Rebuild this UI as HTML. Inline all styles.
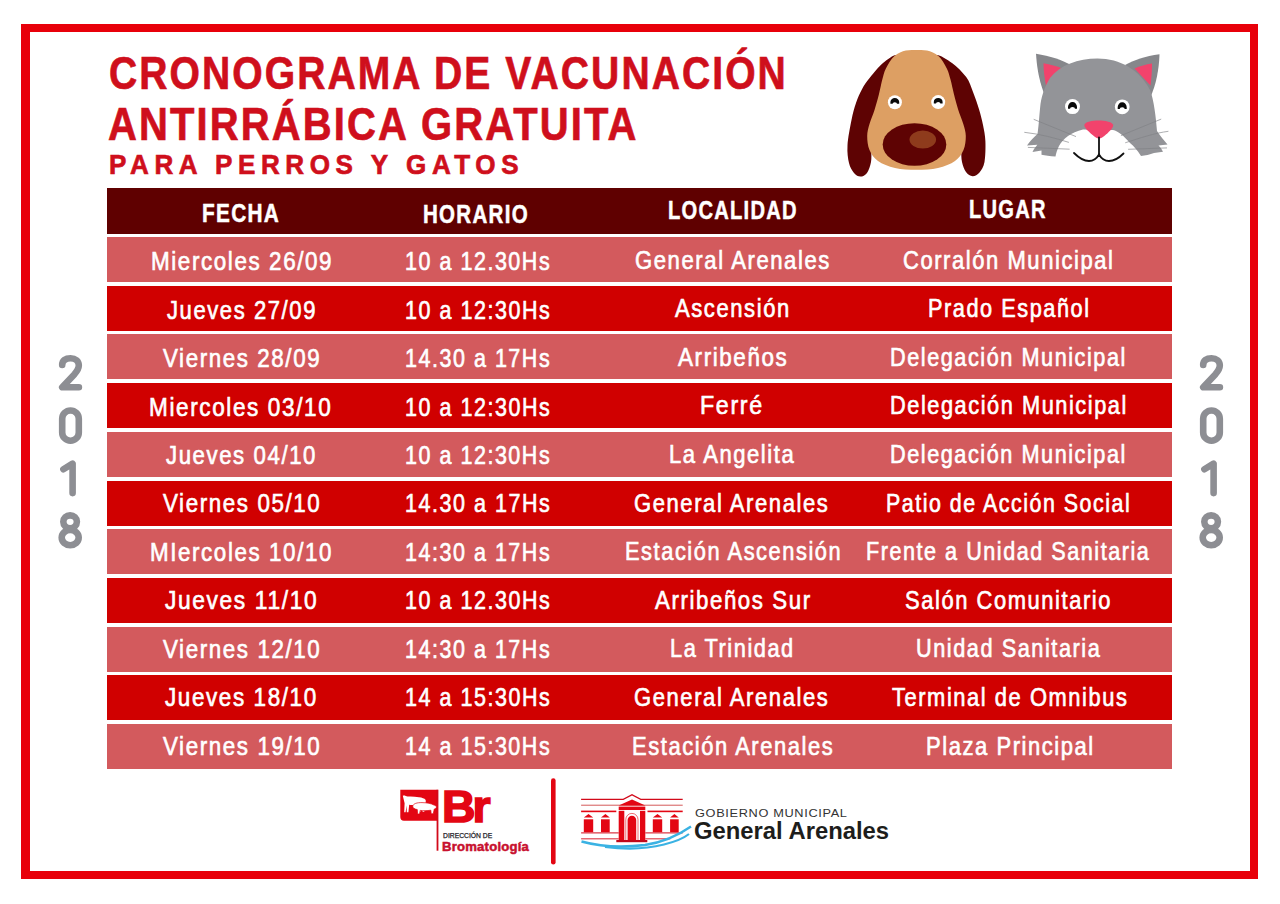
<!DOCTYPE html><html><head><meta charset="utf-8"><style>
*{margin:0;padding:0;box-sizing:border-box}
html,body{width:1280px;height:904px;background:#fff;overflow:hidden;position:relative;font-family:"Liberation Sans",sans-serif}
.frame{position:absolute;left:21px;top:24px;width:1237px;height:855px;border:8px solid #e8000a;border-left-width:9px}
.t{position:absolute;white-space:nowrap;color:#cf0f1c;font-weight:700;transform-origin:0 0;-webkit-text-stroke:0.7px #cf0f1c}
.row{position:absolute;left:107px;width:1065px;height:45px}
.c{position:absolute;color:#fff;font-weight:400;-webkit-text-stroke:0.65px #fff;font-size:25.2px;line-height:30px;letter-spacing:1.8px;white-space:nowrap;transform-origin:0 0}
.h{position:absolute;color:#fff;font-weight:700;font-size:25.5px;line-height:30px;letter-spacing:1.6px;-webkit-text-stroke:0.5px #fff;white-space:nowrap;transform-origin:0 0}
.yr{position:absolute;color:#8e8f93;font-weight:700;line-height:60px;text-align:center;width:100px;transform-origin:50% 0}
</style></head><body>
<div class="frame"></div>
<div class="t" style="left:109.15px;top:44.85px;font-size:47px;line-height:56px;letter-spacing:2.5px;transform:scaleX(0.8307)">CRONOGRAMA DE VACUNACIÓN</div>
<div class="t" style="left:108.15px;top:96.45px;font-size:47px;line-height:56px;letter-spacing:2.5px;transform:scaleX(0.8510)">ANTIRRÁBICA GRATUITA</div>
<div class="t" style="left:109.17px;top:147.50px;font-size:28px;line-height:33px;letter-spacing:6.0px;transform:scaleX(0.9299)">PARA PERROS Y GATOS</div>
<div class="row" style="top:188px;height:46px;background:#5f0000"></div>
<div class="row" style="top:237.0px;background:#d35a5d"></div>
<div class="row" style="top:285.7px;background:#d00000"></div>
<div class="row" style="top:334.4px;background:#d35a5d"></div>
<div class="row" style="top:383.1px;background:#d00000"></div>
<div class="row" style="top:431.8px;background:#d35a5d"></div>
<div class="row" style="top:480.5px;background:#d00000"></div>
<div class="row" style="top:529.2px;background:#d35a5d"></div>
<div class="row" style="top:577.9px;background:#d00000"></div>
<div class="row" style="top:626.6px;background:#d35a5d"></div>
<div class="row" style="top:675.3px;background:#d00000"></div>
<div class="row" style="top:724.0px;background:#d35a5d"></div>
<div class="c" style="left:150.59px;top:246.25px;transform:scaleX(0.8895)">Miercoles 26/09</div>
<div class="c" style="left:404.56px;top:246.25px;transform:scaleX(0.8526)">10 a 12.30Hs</div>
<div class="c" style="left:634.80px;top:244.55px;transform:scaleX(0.8770)">General Arenales</div>
<div class="c" style="left:903.16px;top:244.55px;transform:scaleX(0.8723)">Corralón Municipal</div>
<div class="c" style="left:167.05px;top:294.69px;transform:scaleX(0.8748)">Jueves 27/09</div>
<div class="c" style="left:404.61px;top:294.69px;transform:scaleX(0.8528)">10 a 12:30Hs</div>
<div class="c" style="left:675.00px;top:293.16px;transform:scaleX(0.8745)">Ascensión</div>
<div class="c" style="left:927.87px;top:293.16px;transform:scaleX(0.8618)">Prado Español</div>
<div class="c" style="left:163.00px;top:343.13px;transform:scaleX(0.8869)">Viernes 28/09</div>
<div class="c" style="left:404.56px;top:343.13px;transform:scaleX(0.8526)">14.30 a 17Hs</div>
<div class="c" style="left:677.56px;top:341.77px;transform:scaleX(0.8904)">Arribeños</div>
<div class="c" style="left:890.06px;top:341.77px;transform:scaleX(0.8602)">Delegación Municipal</div>
<div class="c" style="left:148.96px;top:391.57px;transform:scaleX(0.8950)">Miercoles 03/10</div>
<div class="c" style="left:404.61px;top:391.57px;transform:scaleX(0.8528)">10 a 12:30Hs</div>
<div class="c" style="left:699.89px;top:390.38px;transform:scaleX(0.9221)">Ferré</div>
<div class="c" style="left:890.15px;top:390.38px;transform:scaleX(0.8635)">Delegación Municipal</div>
<div class="c" style="left:166.49px;top:440.01px;transform:scaleX(0.8807)">Jueves 04/10</div>
<div class="c" style="left:404.57px;top:440.01px;transform:scaleX(0.8526)">10 a 12:30Hs</div>
<div class="c" style="left:669.05px;top:438.99px;transform:scaleX(0.8745)">La Angelita</div>
<div class="c" style="left:890.06px;top:438.99px;transform:scaleX(0.8602)">Delegación Municipal</div>
<div class="c" style="left:162.74px;top:488.45px;transform:scaleX(0.8880)">Viernes 05/10</div>
<div class="c" style="left:404.60px;top:488.45px;transform:scaleX(0.8530)">14.30 a 17Hs</div>
<div class="c" style="left:634.44px;top:487.60px;transform:scaleX(0.8743)">General Arenales</div>
<div class="c" style="left:886.40px;top:487.60px;transform:scaleX(0.8491)">Patio de Acción Social</div>
<div class="c" style="left:150.02px;top:536.89px;transform:scaleX(0.8875)">MIercoles 10/10</div>
<div class="c" style="left:404.57px;top:536.89px;transform:scaleX(0.8526)">14:30 a 17Hs</div>
<div class="c" style="left:624.57px;top:536.21px;transform:scaleX(0.8660)">Estación Ascensión</div>
<div class="c" style="left:866.33px;top:536.21px;transform:scaleX(0.8563)">Frente a Unidad Sanitaria</div>
<div class="c" style="left:165.37px;top:585.33px;transform:scaleX(0.9037)">Jueves 11/10</div>
<div class="c" style="left:404.60px;top:585.33px;transform:scaleX(0.8530)">10 a 12.30Hs</div>
<div class="c" style="left:654.84px;top:584.82px;transform:scaleX(0.8832)">Arribeños Sur</div>
<div class="c" style="left:905.45px;top:584.82px;transform:scaleX(0.8704)">Salón Comunitario</div>
<div class="c" style="left:162.74px;top:633.77px;transform:scaleX(0.8881)">Viernes 12/10</div>
<div class="c" style="left:404.57px;top:633.77px;transform:scaleX(0.8526)">14:30 a 17Hs</div>
<div class="c" style="left:670.29px;top:633.43px;transform:scaleX(0.8640)">La Trinidad</div>
<div class="c" style="left:915.57px;top:633.43px;transform:scaleX(0.8618)">Unidad Sanitaria</div>
<div class="c" style="left:165.39px;top:682.21px;transform:scaleX(0.8913)">Jueves 18/10</div>
<div class="c" style="left:404.61px;top:682.21px;transform:scaleX(0.8528)">14 a 15:30Hs</div>
<div class="c" style="left:634.44px;top:682.04px;transform:scaleX(0.8743)">General Arenales</div>
<div class="c" style="left:891.75px;top:682.04px;transform:scaleX(0.8688)">Terminal de Omnibus</div>
<div class="c" style="left:162.74px;top:730.65px;transform:scaleX(0.8881)">Viernes 19/10</div>
<div class="c" style="left:404.57px;top:730.65px;transform:scaleX(0.8526)">14 a 15:30Hs</div>
<div class="c" style="left:631.81px;top:730.65px;transform:scaleX(0.8711)">Estación Arenales</div>
<div class="c" style="left:925.67px;top:730.65px;transform:scaleX(0.8719)">Plaza Principal</div>
<div class="h" style="left:201.75px;top:198.45px;transform:scaleX(0.8140)">FECHA</div>
<div class="h" style="left:422.68px;top:199.20px;transform:scaleX(0.8047)">HORARIO</div>
<div class="h" style="left:667.52px;top:194.50px;transform:scaleX(0.7887)">LOCALIDAD</div>
<div class="h" style="left:968.72px;top:194.30px;transform:scaleX(0.7882)">LUGAR</div>
<svg style="position:absolute;left:0;top:0" width="1280" height="904" viewBox="0 0 1280 904">
<g>
<path fill="#5e0303" d="M896.00,55.00 C894.33,54.50 887.33,59.23 883.00,63.00 C878.67,66.77 873.50,73.23 870.00,77.60 C866.50,81.97 864.33,84.97 862.00,89.20 C859.67,93.43 857.75,97.87 856.00,103.00 C854.25,108.13 852.92,112.93 851.50,120.00 C850.08,127.07 847.92,138.23 847.50,145.40 C847.08,152.57 847.92,158.40 849.00,163.00 C850.08,167.60 852.10,170.73 854.00,173.00 C855.90,175.27 858.23,176.60 860.40,176.60 C862.57,176.60 865.23,175.43 867.00,173.00 C868.77,170.57 870.27,165.83 871.00,162.00 C871.73,158.17 871.23,154.50 871.40,150.00 C871.57,145.50 869.73,143.33 872.00,135.00 C874.27,126.67 881.50,111.50 885.00,100.00 C888.50,88.50 891.17,73.50 893.00,66.00 C894.83,58.50 897.67,55.50 896.00,55.00 Z"/>
<path fill="#5e0303" d="M937.00,55.00 C938.83,54.50 947.13,59.32 952.00,63.00 C956.87,66.68 962.70,72.27 966.20,77.10 C969.70,81.93 970.87,86.65 973.00,92.00 C975.13,97.35 977.33,103.70 979.00,109.20 C980.67,114.70 981.93,119.65 983.00,125.00 C984.07,130.35 985.15,135.13 985.40,141.30 C985.65,147.47 985.48,156.80 984.50,162.00 C983.52,167.20 981.48,170.13 979.50,172.50 C977.52,174.87 974.85,176.28 972.60,176.20 C970.35,176.12 967.77,174.37 966.00,172.00 C964.23,169.63 962.78,165.67 962.00,162.00 C961.22,158.33 961.30,154.50 961.30,150.00 C961.30,145.50 964.05,143.33 962.00,135.00 C959.95,126.67 952.50,111.50 949.00,100.00 C945.50,88.50 943.00,73.50 941.00,66.00 C939.00,58.50 935.17,55.50 937.00,55.00 Z"/>
<path fill="#dd9f63" d="M916.40,50.00 C919.93,50.00 923.33,49.58 927.00,50.60 C930.67,51.62 935.10,53.13 938.40,56.10 C941.70,59.07 944.78,64.48 946.80,68.40 C948.82,72.32 949.32,75.33 950.50,79.60 C951.68,83.87 952.60,88.93 953.90,94.00 C955.20,99.07 956.73,105.00 958.30,110.00 C959.87,115.00 962.05,119.67 963.30,124.00 C964.55,128.33 965.77,131.67 965.80,136.00 C965.83,140.33 965.30,145.83 963.50,150.00 C961.70,154.17 959.25,158.00 955.00,161.00 C950.75,164.00 944.42,166.53 938.00,168.00 C931.58,169.47 923.67,169.80 916.50,169.80 C909.33,169.80 901.42,169.47 895.00,168.00 C888.58,166.53 882.25,164.00 878.00,161.00 C873.75,158.00 871.30,154.17 869.50,150.00 C867.70,145.83 867.20,140.33 867.20,136.00 C867.20,131.67 868.28,128.33 869.50,124.00 C870.72,119.67 872.92,115.00 874.50,110.00 C876.08,105.00 877.70,99.07 879.00,94.00 C880.30,88.93 881.15,83.87 882.30,79.60 C883.45,75.33 883.87,72.32 885.90,68.40 C887.93,64.48 891.18,59.07 894.50,56.10 C897.82,53.13 902.15,51.62 905.80,50.60 C909.45,49.58 912.87,50.00 916.40,50.00 Z"/>
<ellipse cx="914.5" cy="144.5" rx="31.8" ry="21.3" fill="#5e0303"/>
<ellipse cx="922.8" cy="139.6" rx="13.3" ry="9" fill="#8e3b1c"/>
<circle cx="894.9" cy="102.2" r="7.0" fill="#fff"/>
<circle cx="938.2" cy="102.1" r="7.0" fill="#fff"/>
<path fill="#0a0a0a" d="M890.40,103.70 L890.40,102.00 A4.40,4.00 0 0 1 899.20,102.00 L899.20,103.70 L897.00,103.70 A2.20,1.50 0 0 0 892.60,103.70 Z"/>
<path fill="#0a0a0a" d="M933.80,103.60 L933.80,101.90 A4.40,4.00 0 0 1 942.60,101.90 L942.60,103.60 L940.40,103.60 A2.20,1.50 0 0 0 936.00,103.60 Z"/>
</g>

<g>
<path fill="#86878b" d="M1036,53.8 C1050,56 1062,60 1071,65 L1046,98 C1040,85 1037,70 1036,53.8 Z"/>
<path fill="#86878b" d="M1159.5,54.2 C1145,56 1134,60 1125,65 L1150,98 C1156,85 1159,70 1159.5,54.2 Z"/>
<path fill="#f2436c" d="M1043.5,63.2 C1050,64.5 1057,66 1062,68.5 L1046,85.5 C1044.5,78 1043.5,70 1043.5,63.2 Z"/>
<path fill="#f2436c" d="M1152,63.5 C1146,64.5 1140,66 1134.5,68.5 L1150.5,85.5 C1151.5,78 1152,70 1152,63.5 Z"/>
<path fill="#939498" d="M1097.5,58.5 C1120,58.5 1140,70 1150,90 C1154,100 1156,118 1157,131 C1160,136 1164,140 1167.5,144.5 L1158.5,145.5 C1160.5,147.5 1162,149.5 1163,151.8 L1154,153 C1150,154.5 1145,155.5 1141,156 C1137,150 1134,146 1130,143 C1124,136 1118,131 1113,130 L1083,129.5 C1077,131 1072,133 1068,136 C1064,139 1061,142 1059,146 C1057,150 1056,154 1055.5,156.5 C1050,156 1045,155.3 1041.5,154.7 L1041.5,150.5 L1032.5,152 C1034,149 1035.5,147 1037.3,144.8 L1027,145.5 C1030,141 1034,137 1037.5,134 C1039,124 1039.5,112 1040.5,104 C1042,94 1046,84 1050,78 C1060,65 1078,58.5 1097.5,58.5 Z"/>
<g stroke="#808185" stroke-width="0.8" fill="none" opacity="0.8">
<path d="M1033.7,119.3 L1076,136.6"/>
<path d="M1024.3,132.3 C1040,134 1055,138 1068.9,142.4"/>
<path d="M1027.9,147.4 L1069.6,149.2"/>
<path d="M1161.2,119.1 L1120.9,135.6"/>
<path d="M1168.4,131.3 C1155,133 1140,138 1125.2,142.8"/>
<path d="M1167,147.9 L1128.1,149.3"/>
</g>
<circle cx="1072.5" cy="106.6" r="7.5" fill="#fff"/>
<circle cx="1122.2" cy="106.8" r="7.4" fill="#fff"/>
<path fill="#0a0a0a" d="M1068.00,108.80 L1068.00,107.10 A4.50,5.10 0 0 1 1077.00,107.10 L1077.00,108.80 L1075.00,108.80 A2.50,1.70 0 0 0 1070.00,108.80 Z"/>
<path fill="#0a0a0a" d="M1117.70,109.00 L1117.70,107.30 A4.50,5.10 0 0 1 1126.70,107.30 L1126.70,109.00 L1124.70,109.00 A2.50,1.70 0 0 0 1119.70,109.00 Z"/>
<path fill="#f2436c" d="M1084.5,124.5 C1086,121.5 1092,120.5 1098.5,120.5 C1105,120.5 1111,121.5 1113,124.5 C1114,127 1110,131 1106,134.5 C1103,137 1101,138.5 1099,138.5 C1097,138.5 1095,137 1092,134.5 C1088,131 1083.5,127 1084.5,124.5 Z"/>
<g stroke="#111" stroke-width="1.8" fill="none" stroke-linecap="round">
<path d="M1099,137.5 L1099,154.5"/>
<path d="M1074,153 C1079,158 1084,161 1089,161 C1094,161 1097,158 1099,154.5 C1101,158 1104,161 1109,161 C1114,161 1119,158 1123.5,153.5"/>
</g>
</g>

<g>
<path fill="#e30613" d="M400.3,789.7 H437.5 V820.8 H404 A3.7,3.7 0 0 1 400.3,817.1 Z"/>
<rect x="436.6" y="789.7" width="1.8" height="61" fill="#d2091a"/>
<path fill="#fff" d="M402.8,795.8 C404.5,795.2 406,796.2 407.5,796.6 C411,796.3 415,796.6 419,797.2 C422,797.6 424.5,798.3 425.5,799.8 C426.2,801.2 425.6,803 424.8,804 L424.3,811.8 L422.6,811.8 L422.3,806 L421,806 L420.6,811.8 L419,811.8 L418.6,805.2 C415,805.6 411.5,805.3 409.2,804.8 L408.4,812.2 L406.8,812.2 L406.6,805.5 L405.6,812.2 L404.2,812.2 L404.6,803.2 C404,801 403.6,798.5 402.8,795.8 Z"/>
<path fill="#fff" stroke="#e30613" stroke-width="0.7" d="M412.8,806.2 C413.2,803.6 417,802.5 422,802.6 C427,802.7 431.5,803.6 433.8,805 C435,805.3 436.2,805.8 436.4,806.8 C436.5,808 435.5,808.8 434.3,809 L433.2,813.8 L431.2,813.8 L430.8,810.2 C427,810.8 423,810.8 420.2,810.4 L419.6,814 L417.6,814 L417.3,809.6 C414.5,809 412.5,807.8 412.8,806.2 Z"/>
<rect x="551" y="778.3" width="4.6" height="86.3" rx="2.3" fill="#e30613"/>
<g fill="#d2091a">
<path d="M581.1,798.8 H623 L632,794 L641,798.8 H682.7 V799.9 H640.6 L632,795.5 L623.4,799.9 H581.1 Z"/>
<rect x="581.1" y="804.7" width="101.6" height="1" fill="#d45a5a"/>
<rect x="581.1" y="810.6" width="35.2" height="1.6" fill="#e30613"/>
<rect x="647.5" y="810.6" width="35.2" height="1.6" fill="#e30613"/>
<path fill="#e30613" d="M632,799.5 L645.3,805.5 H618.7 Z"/>
<rect x="618.7" y="806.6" width="26.6" height="3.4" fill="#e30613"/>
<rect x="618.7" y="810.8" width="5.6" height="29.4" fill="#e30613"/>
<rect x="640" y="810.8" width="5.3" height="29.4" fill="#e30613"/>
<path fill="#e30613" d="M627.6,840 V820 A4.3,4.3 0 0 1 636.2,820 V840 Z"/>
<path fill="none" stroke="#e30613" stroke-width="0.6" d="M625.8,840 V819.5 A6.1,6.1 0 0 1 638,819.5 V840"/>
<path fill="#e30613" d="M583.8,817.6 L588.5,814 L593.2,817.6 Z M601,817.6 L605.4,814 L609.8,817.6 Z M652.8,817.6 L657.5,814 L662.2,817.6 Z M670.1,817.6 L674.4,814 L678.7,817.6 Z"/>
<rect x="583.8" y="819.3" width="9.4" height="12.9" fill="#e30613"/>
<rect x="601" y="819.3" width="8.7" height="12.9" fill="#e30613"/>
<rect x="652.8" y="819.3" width="9.4" height="12.9" fill="#e30613"/>
<rect x="670.1" y="819.3" width="8.6" height="12.9" fill="#e30613"/>
<rect x="581.1" y="832.4" width="37.6" height="1" fill="#d2091a"/><rect x="645.3" y="832.4" width="37.4" height="1" fill="#d2091a"/>
<rect x="581.1" y="838.4" width="37.6" height="0.9" fill="#d2091a"/><rect x="645.3" y="838.4" width="25" height="0.9" fill="#d2091a"/>
<rect x="616.3" y="840" width="31" height="2.2" fill="#c0081a"/>
</g>
<path fill="none" stroke="#3ab2e3" stroke-width="2.4" d="M581.5,841.5 C598,846 620,848 645,845 C662,842.5 678,835.5 691,826.5"/>
<path fill="none" stroke="#3ab2e3" stroke-width="2.2" d="M605,846.8 C625,849.5 648,848.5 664,844.5 C676,841.5 684,838 689,834"/>
</g>
<g transform="translate(0,0)" fill="none" stroke="#8d8e93" stroke-width="6.6" stroke-linecap="round" stroke-linejoin="round">
<path d="M62.2,365 C62.2,360.5 65.5,358.2 70.5,358.2 C75.5,358.2 78.8,361 78.8,365.3 C78.8,368.8 77,371.3 74.5,374.2 L62.2,387.3 L78.9,387.3"/>
<path d="M62.2,418.8 A8.3,8.3 0 0 1 78.8,418.8 L78.8,432.4 A8.3,8.3 0 0 1 62.2,432.4 Z"/>
<path d="M63.4,469.2 L72.6,463.6 L72.6,493.1"/>
<ellipse cx="70.1" cy="521.8" rx="6.8" ry="6.4"/>
<ellipse cx="70.2" cy="537.6" rx="8.5" ry="7.6"/>
</g><g transform="translate(1141,0)" fill="none" stroke="#8d8e93" stroke-width="6.6" stroke-linecap="round" stroke-linejoin="round">
<path d="M62.2,365 C62.2,360.5 65.5,358.2 70.5,358.2 C75.5,358.2 78.8,361 78.8,365.3 C78.8,368.8 77,371.3 74.5,374.2 L62.2,387.3 L78.9,387.3"/>
<path d="M62.2,418.8 A8.3,8.3 0 0 1 78.8,418.8 L78.8,432.4 A8.3,8.3 0 0 1 62.2,432.4 Z"/>
<path d="M63.4,469.2 L72.6,463.6 L72.6,493.1"/>
<ellipse cx="70.1" cy="521.8" rx="6.8" ry="6.4"/>
<ellipse cx="70.2" cy="537.6" rx="8.5" ry="7.6"/>
</g></svg>
<div style="position:absolute;left:441.86px;top:779.50px;font-size:45px;line-height:54.0px;font-weight:700;color:#e30613;letter-spacing:-3px;white-space:nowrap;transform:scaleX(1.0319);transform-origin:0 0;-webkit-text-stroke:1.6px #e30613;">Br</div>
<div style="position:absolute;left:443.14px;top:832.36px;font-size:7.3px;line-height:8.8px;font-weight:400;color:#1a1a24;letter-spacing:0px;white-space:nowrap;transform:scaleX(0.9259);transform-origin:0 0;-webkit-text-stroke:0.25px #1a1a24;">DIRECCIÓN DE</div>
<div style="position:absolute;left:442.47px;top:839.65px;font-size:12.6px;line-height:15.1px;font-weight:700;color:#c8102e;letter-spacing:0.2px;white-space:nowrap;transform:scaleX(1.0424);transform-origin:0 0;-webkit-text-stroke:0.5px #c8102e;">Bromatología</div>
<div style="position:absolute;left:695.38px;top:805.65px;font-size:11.8px;line-height:14.2px;font-weight:400;color:#333333;letter-spacing:0.6px;white-space:nowrap;transform:scaleX(1.0822);transform-origin:0 0;">GOBIERNO MUNICIPAL</div>
<div style="position:absolute;left:693.92px;top:817.94px;font-size:23px;line-height:27.6px;font-weight:700;color:#1d1d1b;letter-spacing:0px;white-space:nowrap;transform:scaleX(1.0358);transform-origin:0 0;">General Arenales</div>
</body></html>
